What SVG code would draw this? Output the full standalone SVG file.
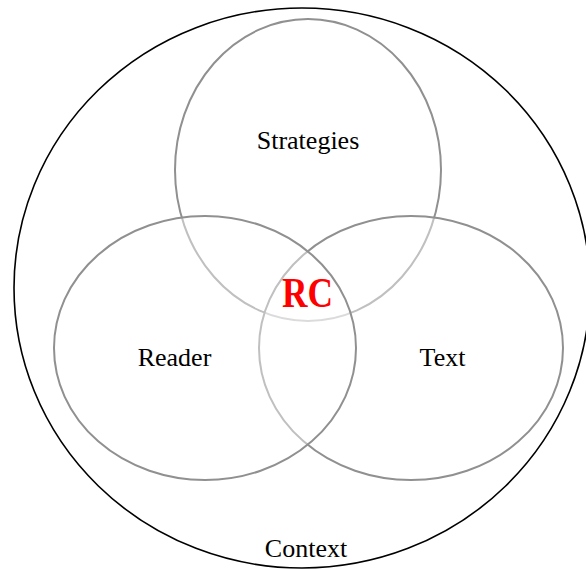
<svg xmlns="http://www.w3.org/2000/svg" width="586" height="569" viewBox="0 0 586 569">
<style>
.set{fill:#fff;fill-opacity:0.43;stroke:#909090;stroke-width:2}
.lbl{font-family:"Liberation Serif","Times New Roman",serif;font-size:26px;fill:#000;text-anchor:middle}
</style>
<rect width="586" height="569" fill="#fff"/>
<g id="context">
<ellipse cx="302" cy="288" rx="288" ry="280" fill="none" stroke="#000" stroke-width="1.6"/>
<text class="lbl" x="306" y="557" font-size="26">Context</text>
</g>
<g id="strategies">
<ellipse class="set" cx="308" cy="170" rx="133" ry="151"/>
</g>
<g id="text">
<ellipse class="set" cx="411" cy="348" rx="152" ry="132"/>
</g>
<g id="reader">
<ellipse class="set" cx="205" cy="348" rx="151" ry="132"/>
</g>
<g id="labels">
<text class="lbl" x="308" y="149">Strategies</text>
<text class="lbl" x="174.5" y="366">Reader</text>
<text class="lbl" x="442.5" y="366">Text</text>
</g>
<g id="rc">
<text x="307.5" y="307" font-family="Liberation Serif, serif" font-weight="bold" font-size="43" fill="#f00" text-anchor="middle" textLength="51" lengthAdjust="spacingAndGlyphs">RC</text>
</g>
<g id="connectors"/>
</svg>
